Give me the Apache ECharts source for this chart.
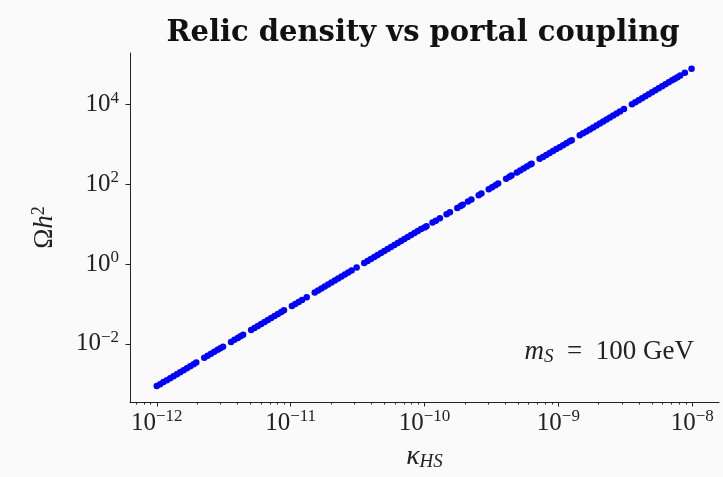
<!DOCTYPE html>
<html>
<head>
<meta charset="utf-8">
<script src="https://cdn.jsdelivr.net/npm/echarts@6/dist/echarts.min.js"></script>
<style>
html,body{margin:0;padding:0;background:#fafafa;}
#chart{width:723px;height:477px;}
</style>
</head>
<body>
<div id="chart"></div>
<script>
// portal coupling kappa_HS
const kappa = [
1.000e-12,1.059e-12,1.122e-12,1.189e-12,1.259e-12,1.334e-12,1.413e-12,1.496e-12,1.585e-12,1.679e-12,
1.778e-12,1.884e-12,1.972e-12,2.265e-12,2.399e-12,2.541e-12,2.692e-12,2.851e-12,2.985e-12,3.126e-12,
3.589e-12,3.802e-12,4.027e-12,4.217e-12,4.416e-12,5.070e-12,5.370e-12,5.689e-12,6.026e-12,6.383e-12,
6.761e-12,7.161e-12,7.586e-12,8.035e-12,8.511e-12,8.913e-12,
1.023e-11,1.084e-11,1.148e-11,1.216e-11,1.318e-11,1.514e-11,1.603e-11,1.698e-11,1.799e-11,1.905e-11,
2.018e-11,2.138e-11,2.265e-11,2.399e-11,2.541e-11,2.692e-11,2.851e-11,3.112e-11,3.548e-11,3.758e-11,
3.981e-11,4.217e-11,4.467e-11,4.732e-11,5.012e-11,5.309e-11,5.623e-11,5.957e-11,6.310e-11,6.683e-11,
7.079e-11,7.499e-11,7.943e-11,8.414e-11,8.913e-11,9.441e-11,
1.000e-10,1.035e-10,1.148e-10,1.216e-10,1.303e-10,1.462e-10,1.549e-10,1.758e-10,1.862e-10,1.928e-10,
2.113e-10,2.239e-10,2.541e-10,2.661e-10,3.020e-10,3.199e-10,3.388e-10,3.548e-10,4.074e-10,4.315e-10,
4.467e-10,4.898e-10,5.188e-10,5.495e-10,5.821e-10,6.166e-10,6.310e-10,7.244e-10,7.674e-10,8.128e-10,
8.610e-10,9.120e-10,9.661e-10,
1.023e-9,1.084e-9,1.148e-9,1.216e-9,1.259e-9,1.445e-9,1.531e-9,1.622e-9,1.718e-9,1.820e-9,
1.928e-9,2.042e-9,2.163e-9,2.291e-9,2.427e-9,2.570e-9,2.723e-9,2.884e-9,3.090e-9,3.548e-9,
3.758e-9,3.981e-9,4.217e-9,4.467e-9,4.732e-9,5.012e-9,5.309e-9,5.623e-9,5.957e-9,6.310e-9,
6.683e-9,7.079e-9,7.413e-9,7.762e-9,8.128e-9,8.810e-9,9.886e-9
];
// relic density Omega h^2
const omega = [
8.71e-4,9.77e-4,1.10e-3,1.23e-3,1.38e-3,1.55e-3,1.74e-3,1.95e-3,2.19e-3,2.45e-3,
2.75e-3,3.09e-3,3.39e-3,4.47e-3,5.01e-3,5.62e-3,6.31e-3,7.08e-3,7.76e-3,8.51e-3,
1.12e-2,1.26e-2,1.41e-2,1.55e-2,1.70e-2,2.24e-2,2.51e-2,2.82e-2,3.16e-2,3.55e-2,
3.98e-2,4.47e-2,5.01e-2,5.62e-2,6.31e-2,6.92e-2,
8.91e-2,1.00e-1,1.12e-1,1.26e-1,1.48e-1,1.95e-1,2.19e-1,2.45e-1,2.75e-1,3.09e-1,
3.47e-1,3.89e-1,4.37e-1,4.90e-1,5.50e-1,6.17e-1,6.92e-1,8.24e-1,1.07,1.20,
1.35,1.51,1.70,1.91,2.14,2.40,2.69,3.02,3.39,3.80,
4.27,4.79,5.37,6.03,6.76,7.59,
8.32,8.92,11.0,12.3,14.1,17.8,20.0,25.7,28.8,30.9,
37.2,41.7,53.7,58.9,75.9,85.1,95.5,105,138,155,
166,200,224,251,282,316,331,437,490,550,
617,692,777,
851,955,1072,1202,1289,1698,1905,2138,2399,2692,
3020,3388,3802,4266,4786,5370,6026,6761,7763,10236,
11487,12882,14454,16218,18197,20417,22909,25704,28840,32359,
36308,40738,44668,48978,53703,63096,79433
];
// axis ticks
const xMajorTicks = [1e-12, 1e-11, 1e-10, 1e-9, 1e-8];
const xMinorTicks = [7e-13,8e-13,9e-13,
 2e-12,3e-12,4e-12,5e-12,6e-12,7e-12,8e-12,9e-12,
 2e-11,3e-11,4e-11,5e-11,6e-11,7e-11,8e-11,9e-11,
 2e-10,3e-10,4e-10,5e-10,6e-10,7e-10,8e-10,9e-10,
 2e-9,3e-9,4e-9,5e-9,6e-9,7e-9,8e-9,9e-9];
const yMajorTicks = [1e-2, 1, 1e2, 1e4];
const xRange = [6.31e-13, 1.585e-8];
const yRange = [3.48e-4, 1.977e5];

const points = kappa.map((k, i) => [k, omega[i]]);

const SERIF = '"Liberation Serif", "DejaVu Serif", serif';
const INK = '#222';
function powLabel(v) {
  const e = Math.round(Math.log10(v));
  const s = e < 0 ? '\u2212' + (-e) : String(e);
  return '{b|10}{s|' + s + '}';
}
const labelRich = {
  b: {fontFamily: SERIF, fontSize: 25, color: INK},
  s: {fontFamily: SERIF, fontSize: 17, color: INK, padding: [0, 0, 13, 0]}
};

const chart = echarts.init(document.getElementById('chart'), null, {renderer: 'canvas'});
chart.setOption({
  backgroundColor: '#fafafa',
  animation: false,
  grid: {left: 130, top: 53, width: 589, height: 349, containLabel: false, outerBoundsMode: 'none'},
  xAxis: [{
    type: 'log', min: xRange[0], max: xRange[1],
    position: 'bottom',
    name: '{k|\u03ba}{sub|HS}', nameLocation: 'middle', nameGap: 40, nameMoveOverlap: false,
    nameTextStyle: {rich: {
      k: {fontFamily: SERIF, fontStyle: 'italic', fontSize: 28, color: INK},
      sub: {fontFamily: SERIF, fontStyle: 'italic', fontSize: 19, color: INK, padding: [10, 0, 0, 0]}
    }},
    axisLine: {show: true, lineStyle: {color: INK, width: 1}},
    axisTick: {show: true, length: 4.5, customValues: xMajorTicks, lineStyle: {color: INK}},
    axisLabel: {show: true, customValues: xMajorTicks, margin: 6, formatter: powLabel, rich: labelRich, hideOverlap: false},
    splitLine: {show: false}, minorTick: {show: false}
  }, {
    type: 'log', min: xRange[0], max: xRange[1],
    position: 'bottom',
    axisLine: {show: false},
    axisTick: {show: true, length: 2.5, customValues: xMinorTicks, lineStyle: {color: INK}},
    axisLabel: {show: false},
    splitLine: {show: false}
  }],
  yAxis: [{
    type: 'log', min: yRange[0], max: yRange[1],
    position: 'left',
    name: '{o|\u03a9}{h|h}{s|2}', nameLocation: 'middle', nameGap: 70, nameRotate: 90, nameMoveOverlap: false,
    nameTextStyle: {rich: {
      o: {fontFamily: SERIF, fontSize: 27, color: INK},
      h: {fontFamily: SERIF, fontStyle: 'italic', fontSize: 27, color: INK},
      s: {fontFamily: SERIF, fontSize: 18, color: INK, padding: [0, 0, 12, 0]}
    }},
    axisLine: {show: true, lineStyle: {color: INK, width: 1}},
    axisTick: {show: true, length: 4.5, customValues: yMajorTicks, lineStyle: {color: INK}},
    axisLabel: {show: true, customValues: yMajorTicks, margin: 11, formatter: powLabel, rich: labelRich, hideOverlap: false},
    splitLine: {show: false}, minorTick: {show: false}
  }],
  graphic: [{
    type: 'text', x: 423, y: 33,
    style: {
      text: 'Relic density vs portal coupling',
      font: 'bold 29px "DejaVu Serif", serif',
      fill: '#111', align: 'center', verticalAlign: 'middle'
    }
  }, {
    type: 'text', x: 694, y: 352,
    style: {
      text: '{m|m}{s|S}{n|\u2002=\u2002100 GeV}',
      align: 'right', verticalAlign: 'middle',
      rich: {
        m: {fontFamily: SERIF, fontStyle: 'italic', fontSize: 27, fill: INK},
        s: {fontFamily: SERIF, fontStyle: 'italic', fontSize: 19, fill: INK, padding: [9, 0, 0, 0]},
        n: {fontFamily: SERIF, fontSize: 27, fill: INK}
      }
    }
  }],
  series: [{
    type: 'scatter', xAxisIndex: 0, yAxisIndex: 0,
    data: points, symbol: 'circle', symbolSize: 6.5,
    itemStyle: {color: '#0000ff', opacity: 1},
    emphasis: {disabled: true}
  }]
});
</script>
</body>
</html>
